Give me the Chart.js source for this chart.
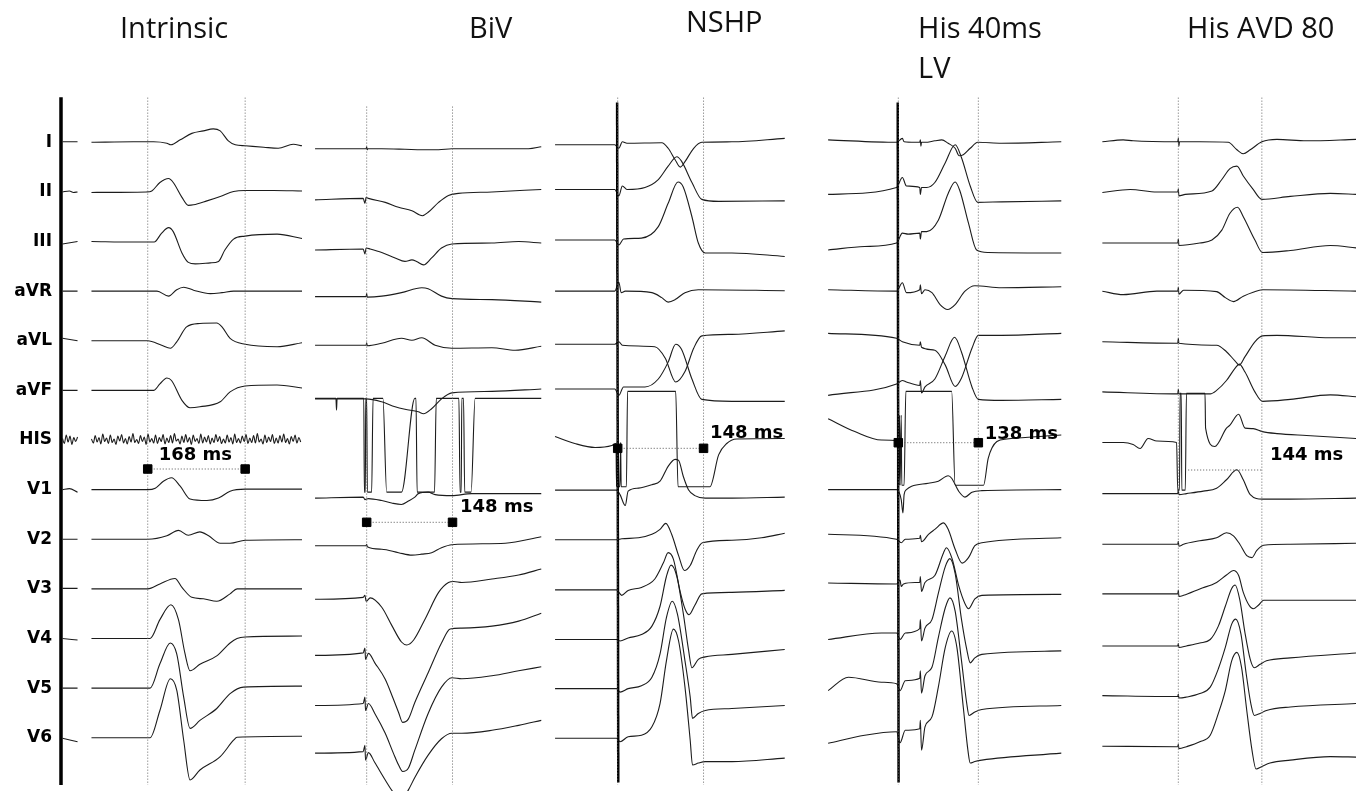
<!DOCTYPE html>
<html>
<head>
<meta charset="utf-8">
<title>QRS duration by pacing mode</title>
<script src="https://cdn.jsdelivr.net/npm/chart.js@4.4.1/dist/chart.umd.min.js"></script>
<style>
  body { margin: 0; background: #fff; }
  #wrap { position: absolute; left: 0; top: 0; width: 1356px; height: 791px; }
  .ttl { position: absolute; font-family: "Open Sans", sans-serif; font-size: 29px; line-height: 40px; color: #111; white-space: pre; }
</style>
</head>
<body>
<div id="wrap"><canvas id="ecg"></canvas></div>
<script>
// leads, panels, measured QRS (ms)
const leads = ["I", "II", "III", "aVR", "aVL", "aVF", "HIS", "V1", "V2", "V3", "V4", "V5", "V6"];
const panels = ["Intrinsic", "BiV", "NSHP", "His 40ms\nLV", "His AVD 80"];
const qrsMs = [168, 148, 148, 138, 144];
const qrsLabels = ["168 ms", "148 ms", "148 ms", "138 ms", "144 ms"];

// each trace: time (ms from QRS onset), amplitude (lead spacings), ... ; null = gap
// intrinsic HIS channel is plain noise, sampled every 3.25 ms
const hisStep = 3.25;
const hisPre = [.03, -.07, .1, -.04, .08, -.09, .05, -.03, .06];
const hisMain = [.02, -.06, .09, -.04, .05, -.08, .12, -.03, .04, -.07, .10, -.05, .02, -.09, .08, -.02, .11, -.06, .03, -.08,
  .07, -.04, .13, -.05, .01, -.07, .09, -.03, .06, -.09, .12, -.04, .03, -.06, .10, -.07, .05, -.03, .11, -.08,
  .04, -.05, .09, -.06, .13, -.02, .02, -.08, .08, -.05, .11, -.04, .05, -.09, .10, -.03, .03, -.07, .12, -.06,
  .06, -.04, .09, -.08, .04, -.05, .11, -.03, .07, -.07, .02, -.06, .10, -.04, .05, -.08, .12, -.05, .03, -.06,
  .08, -.03, .11, -.07, .04, -.05, .09, -.06, .13, -.04, .02, -.08, .10, -.05, .06, -.03, .11, -.07, .04, -.06,
  .09, -.04, .12, -.05, .03, -.08, .07, -.03, .10, -.06, .05, -.04];

function sampled(t0, vals) {
  var out = [];
  vals.forEach(function (v, i) { out.push(t0 + i * hisStep, v); });
  return out;
}

const intrinsic = [
  [-147,.01,-121,.01,null,-97,0,-25,.01,10,.01,33,-.02,40,-.05,56,.05,76,.18,96,.23,113,.27,125,.23,139,.03,151,-.05,168,-.07,200,-.10,225,-.12,251,-.04,266,-.07],
  [-147,0,-135,.02,-128,-.01,-121,0,null,-97,-.01,-2,0,7,.02,21,.19,36,.27,44,.19,59,-.11,70,-.27,79,-.26,102,-.18,125,-.09,148,.01,168,.03,217,.03,266,.02],
  [-147,-.05,-121,0,null,-97,0,-25,-.01,11,-.01,24,.17,36,.28,44,.2,59,-.23,70,-.42,82,-.45,108,-.43,122,-.4,133,-.17,148,.05,168,.11,223,.15,266,.06],
  [-147,0,-121,0,null,-97,0,16,0,36,-.1,50,.03,62,.08,79,.02,108,-.05,128,-.03,148,0,266,0],
  [-147,.05,-121,0,null,-97,0,0,0,24,-.09,39,-.15,50,-.02,67,.28,90,.35,119,.36,128,.28,142,.05,168,-.07,223,-.12,266,-.04],
  [-147,0,-121,0,null,-97,0,10,0,21,.13,33,.25,41,.2,59,-.2,73,-.35,90,-.33,125,-.23,142,-.03,168,.09,223,.11,266,.05],
  sampled(-147, hisPre).concat([null], sampled(-97, hisMain)),
  [-147,0,-135,.02,-121,-.05,null,-97,0,0,0,13,.03,27,.17,41,.24,56,.07,73,-.19,102,-.22,122,-.17,142,-.03,168,.01,266,.01],
  [-147,0,-121,0,null,-97,0,0,0,33,.07,53,.18,70,.08,90,.15,105,.07,125,-.08,142,-.08,168,-.02,266,-.01],
  [-147,.01,-121,.01,null,-97,0,0,0,21,.1,47,.21,59,.03,76,-.17,96,-.2,119,-.25,142,-.1,154,0,266,0],
  [-147,0,-121,-.03,null,-97,0,4,0,21,.38,40,.68,53,.38,64,-.29,73,-.65,90,-.52,119,-.35,142,-.09,154,0,168,.03,266,.05],
  [-147,0,-121,0,null,-97,0,4,0,21,.49,39,.91,50,.69,62,-.18,73,-.81,90,-.65,119,-.41,142,-.11,165,.02,266,.04],
  [-147,-.01,-121,-.08,null,-97,0,4,0,21,.55,39,1.19,50,.96,62,-.05,73,-.85,90,-.65,125,-.38,148,-.05,154,.01,266,.03]
];

const biv = [
  [-89,-.13,-1,-.13,0,-.09,1,-.15,2,-.13,26,-.13,66,-.14,95,-.15,124,-.15,147,-.13,279,-.13,301,-.09],
  [-89,-.16,-6,-.13,-3,-.23,-1,-.11,3,-.13,32,-.21,55,-.31,78,-.38,96,-.48,106,-.41,124,-.21,141,-.07,158,-.03,216,0,301,.05],
  [-89,-.17,-6,-.15,-3,-.25,-1,-.13,6,-.15,26,-.22,49,-.33,66,-.4,78,-.37,86,-.4,98,-.47,112,-.33,129,-.13,147,-.05,216,-.03,262,0,301,-.03],
  [-89,-.11,-1,-.11,0,-.05,1,-.12,26,-.1,60,-.03,95,.07,106,.05,129,-.1,147,-.15,216,-.17,301,-.22],
  [-89,-.09,-1,-.09,0,-.04,1,-.1,26,-.05,60,.05,78,.01,95,.06,118,-.09,147,-.15,216,-.14,256,-.19,301,-.11],
  [-89,-.17,-1,-.17,26,-.23,49,-.33,66,-.38,89,-.43,98,-.47,112,-.37,129,-.17,147,-.05,216,-.02,301,.03],
  [-89,.84,-53,.84,-52,.6,-51,.84,-5,.84,-4,-1.05,-2.3,-1.05,-1.7,.84,0,.84,1.2,-1.05,8.6,-1.05,11,.84,28,.84,34.5,-1.05,60,-1.05,83,.84,85,.84,87,-1.05,117,-1.05,120,.84,159,.84,161,-1.05,163,-1.05,164,.84,167,.84,169,-1.05,180,-1.05,187,.84,301,.84],
  [-89,-.17,-6,-.15,-3,-.2,3,-.18,26,-.22,43,-.27,60,-.3,72,-.23,83,-.15,89,-.08,106,-.05,118,-.1,147,-.12,181,-.08,301,-.08],
  [-89,-.13,-1,-.13,0,-.1,1,-.15,26,-.2,55,-.27,78,-.32,95,-.3,112,-.27,129,-.17,147,-.11,239,-.08,301,.05],
  [-89,-.21,-6,-.17,-3,-.13,-1,-.25,6,-.18,26,-.37,43,-.73,60,-1.07,69,-1.13,81,-1.03,101,-.6,124,-.07,141,.13,150,.15,164,.13,216,.2,262,.28,301,.4],
  [-89,-.34,-6,-.29,-3,-.19,-2,-.42,3,-.3,14,-.49,32,-.82,46,-1.22,55,-1.49,62,-1.69,72,-1.62,83,-1.29,106,-.69,129,-.09,144,.19,164,.21,216,.25,262,.35,301,.51],
  [-89,-.35,-6,-.31,-3,-.18,-2,-.45,3,-.31,14,-.51,32,-.91,46,-1.31,55,-1.55,62,-1.68,72,-1.61,83,-1.25,106,-.51,129,.02,147,.21,164,.19,216,.25,262,.35,301,.43],
  [-89,-.31,-6,-.28,-3,-.15,-2,-.45,3,-.3,14,-.5,32,-.85,46,-1.1,55,-1.18,62,-1.22,72,-1.05,83,-.8,106,-.35,129,-.02,147,.09,164,.09,216,.15,262,.25,301,.35]
];

const nshp = [
  [-108,-.05,-5,-.05,2,-.12,8,.01,16,-.02,76,-.01,87,-.12,99,-.35,108,-.5,116,-.39,131,-.12,145,0,197,.01,288,.08],
  [-108,.05,-5,.05,2,-.08,8,.12,16,.05,47,.09,70,.25,87,.52,102,.71,110,.62,128,.19,145,-.15,174,-.19,288,-.18],
  [-108,.03,-5,.03,2,-.07,10,.05,41,.07,70,.3,87,.77,104,1.2,113,1.1,128,.5,139,-.03,151,-.23,197,-.23,288,-.3],
  [-108,0,-5,0,2,.18,6,-.03,13,0,59,-.03,76,-.13,87,-.22,99,-.17,116,-.03,139,.03,288,.01],
  [-108,-.07,-5,-.07,2,-.02,8,-.09,64,-.12,82,-.35,100,-.83,116,-.62,131,-.15,145,.1,197,.13,288,.2],
  [-108,.03,-5,.03,2,-.1,10,.07,47,.07,70,.23,87,.57,100,.93,110,.83,128,.23,145,-.18,197,-.22,288,-.22],
  [-108,.07,-74,-.07,-39,-.15,-10,-.11,-3,-.07,-2,-.94,-1,-.05,0,-.94,1,-.05,2,-.94,4,-.94,5,-.05,6,-.94,15,-.94,17,.98,100,.98,104,-.94,159,-.94,174,-.3,188,-.07,205,.02,288,.03],
  [-108,-.01,-2,-.01,4,-.1,13,-.32,18,-.03,36,.03,59,.1,73,.17,87,.47,99,.61,105,.59,113,.27,122,0,133,-.12,151,-.17,197,-.17,288,-.15],
  [-108,-.01,-2,-.01,7,.01,36,.03,59,.1,73,.2,83,.32,93,.1,105,-.33,115,-.63,125,-.53,136,-.23,146,-.07,197,-.02,248,.03,288,.12],
  [-108,-.02,-2,-.02,7,-.13,18,-.03,41,.03,64,.2,79,.53,87,.73,96,.6,108,-.07,116,-.4,123,-.52,133,-.33,145,-.1,197,-.07,288,-.03],
  [-108,-.02,-2,-.02,4,-.05,18,.01,41,.08,59,.25,73,.65,84,1.25,92,1.48,102,1.25,113,.51,122,-.22,128,-.59,139,-.42,151,-.37,197,-.32,288,-.22],
  [-108,-.01,-2,-.01,4,-.08,18,-.01,41,.05,59,.22,73,.69,84,1.42,94,1.75,103,1.49,116,.55,125,-.18,129,-.61,139,-.51,151,-.45,197,-.41,288,-.35],
  [-108,-.01,-2,-.01,4,-.08,18,.02,41,.05,59,.22,73,.69,84,1.55,96,2.19,105,1.95,116,1.02,125,-.05,129,-.55,139,-.51,151,-.48,197,-.48,288,-.41]
];

const his40 = [
  [-121,.05,-3,0,7,.08,10,.01,29,0,37,0,38,.05,39,-.08,40,0,46,0,63,.03,75,.05,86,-.02,98,-.12,105,-.27,112,-.25,124,-.12,137,0,178,-.02,281,.01],
  [-121,-.05,-3,.09,7,.29,14,.12,37,.09,38,-.05,40,.09,49,.09,63,.19,81,.59,98,.95,109,.69,124,.12,137,-.21,178,-.2,281,-.18],
  [-121,-.17,-58,-.1,-3,-.03,7,.17,17,.15,37,.17,38,.05,40,.2,49,.2,69,.43,86,.97,98,1.2,106,1.03,121,.37,135,-.17,155,-.22,281,-.23],
  [-121,.03,-3,0,7,.17,14,-.03,37,.03,38,.13,40,-.05,46,.03,58,-.03,72,-.27,85,-.37,98,-.27,115,0,132,.11,178,.07,281,.09],
  [-121,.15,-3,.05,7,-.02,37,-.09,38,-.02,40,-.13,63,-.19,81,-.49,98,-.92,109,-.75,127,-.15,138,.11,178,.11,281,.15],
  [-121,-.1,-3,.13,7,.2,14,.17,37,.1,38,.2,40,-.05,46,.07,63,.23,81,.7,97,1.07,109,.77,127,.07,138,-.18,178,-.2,281,-.18],
  [-121,.43,-75,.17,-29,0,-1,-.02,1,-.91,2,.5,3,-.91,5,.5,6,-.91,10,-.91,13,.98,92,.98,98,-.91,147,-.91,155,-.37,170,-.03,187,.02,281,.1],
  [-121,0,-3,0,5,-.2,8,-.47,10,-.1,14,0,23,.07,52,.13,69,.17,86,.28,92,.23,104,-.03,115,-.15,127,-.05,144,-.02,281,0],
  [-121,.1,-3,0,5,-.07,12,0,37,.02,38,.08,40,-.05,52,.1,63,.2,78,.33,86,.2,98,-.2,110,-.48,121,-.37,132,-.13,144,-.07,281,.03],
  [-121,.12,-3,.1,3,.18,5,.05,9,.1,29,.13,37,.13,38,.25,40,-.05,46,.13,63,.27,78,.73,83,.83,93,.6,104,.07,115,-.3,121,-.4,132,-.2,144,-.13,281,-.11],
  [-121,-.02,-29,.11,-3,.11,3,-.02,12,.11,37,.2,38,.38,40,-.05,46,.21,58,.38,69,.91,81,1.45,89,1.61,98,1.31,109,.38,118,-.22,124,-.49,132,-.39,144,-.32,281,-.25],
  [-121,-.05,-86,.22,-29,.12,-3,.09,3,-.05,12,.15,37,.2,38,.35,40,-.1,46,.25,58,.42,69,1.02,81,1.62,89,1.82,98,1.55,109,.55,118,-.31,122,-.55,132,-.48,144,-.43,281,-.35],
  [-121,-.11,-58,.05,-3,.12,3,-.1,12,.15,37,.18,38,.35,40,-.25,46,.22,58,.42,69,1.02,81,1.82,92,2.15,101,1.82,112,.62,120,-.25,124,-.51,132,-.48,144,-.45,281,-.31]
];

const hisAvd = [
  [-131,.01,-95,.05,-78,.03,-1,.01,0,.08,1,-.08,2,.01,37,.01,86,0,101,-.15,112,-.23,124,-.15,144,.01,170,.06,221,.03,308,.06],
  [-131,-.01,-83,.05,-37,0,-1,0,0,.06,1,-.08,12,-.05,58,.02,75,.25,89,.47,101,.52,112,.32,129,.05,144,-.15,193,-.09,262,-.03,308,-.05],
  [-131,-.03,-1,-.03,0,.05,1,-.08,37,-.03,58,.03,75,.23,89,.57,102,.69,112,.5,132,.03,145,-.22,193,-.18,262,-.08,308,-.13],
  [-131,0,-95,-.07,-37,0,-1,0,0,.08,1,-.06,9,.02,66,-.01,81,-.13,95,-.21,112,-.1,129,-.02,145,.03,308,0],
  [-131,-.02,-1,-.05,0,.05,1,-.05,66,-.09,83,-.22,98,-.41,105,-.49,115,-.32,132,-.02,145,.1,170,.11,262,.06,308,.06],
  [-131,-.03,-1,-.07,0,.02,1,-.07,55,-.07,66,0,83,.2,98,.45,105,.53,115,.37,132,-.03,145,-.22,193,-.18,262,-.09,308,-.13],
  [-131,-.05,-95,-.05,-78,-.09,-66,-.17,-52,.03,-37,-.02,-3,-.05,-1,-1.01,2,-1.01,3,.94,5,.94,6,-1.01,12,-1.01,14,.94,46,.94,47,.24,63,-.13,83,.24,89,.3,104,.52,115,.24,129,.23,145,.17,170,.13,221,.09,308,.03],
  [-131,-.08,-1,-.08,0,0,1,-.1,14,-.08,43,-.03,66,.03,83,.2,101,.4,112,.2,124,-.1,145,-.19,193,-.19,308,-.17],
  [-131,-.1,-1,-.1,0,-.04,1,-.14,9,-.1,37,-.03,66,.03,83,.13,95,.07,106,-.1,118,-.33,127,-.37,135,-.23,147,-.12,193,-.1,308,-.08],
  [-131,-.1,-1,-.1,0,-.03,1,-.15,9,-.13,37,0,66,.13,83,.28,95,.37,104,.27,112,-.07,122,-.33,129,-.4,138,-.33,147,-.23,193,-.23,308,-.23],
  [-131,-.15,-1,-.15,0,-.1,1,-.18,14,-.15,37,-.09,55,-.02,69,.25,81,.65,92,1.01,98,1.08,106,.78,115,.11,124,-.42,131,-.59,141,-.52,152,-.45,193,-.39,308,-.29],
  [-131,-.15,-1,-.17,0,-.12,1,-.2,14,-.18,37,-.11,55,.02,69,.39,81,.82,92,1.29,99,1.39,108,1.09,117,.29,125,-.31,131,-.55,141,-.51,152,-.45,193,-.38,308,-.31],
  [-131,-.17,-1,-.18,0,-.13,1,-.22,14,-.18,37,-.08,55,.05,69,.49,81,.95,92,1.55,101,1.72,109,1.42,118,.55,127,-.25,134,-.63,144,-.58,158,-.51,193,-.45,262,-.38,308,-.39]
];

const traces = [intrinsic, biv, nshp, his40, hisAvd];
// pacing artefact (ms from onset, start/end) for the panels that show one
const stimulus = [null, null, [-1, 1], [-1, 0.5], null];

// layout: where each recording sits on the page
const onsetAt = [254.7, 632.2, 1065, 1548.8, 2031.6];     // ms on the shared x scale
const markerTop = [-0.9, -0.72, -0.9, -0.9, -0.9];
const measRow = [6.584, 7.658, 6.167, 6.054, 6.604];
const measStart = [0, 0, 0, 0, 17];
const measLabel = [[19, 6.30], [161, 7.36], [159, 5.865], [149, 5.88], [158, 6.30]];
const titleBox = [[120, 7], [469, 7], [686, 1], [918, 7], [1187, 7]];

const MS_PER_PX = 1 / 0.58;
const X_MIN = 60 * MS_PER_PX, X_MAX = 1356 * MS_PER_PX;
const Y_MIN = -2.868, Y_MAX = 13.073;
const ink = "#1c1c1c";

function toPoints(knots, onset, lead) {
  var pts = [];
  for (var i = 0; i < knots.length;) {
    if (knots[i] === null) {
      pts.push({ x: onset + knots[i - 2] + 0.5, y: null });
      i++;
      continue;
    }
    pts.push({ x: onset + knots[i], y: lead - knots[i + 1] });
    i += 2;
  }
  return pts;
}

var datasets = [];

// measurement markers first, so they sit on top
traces.forEach(function (p, pi) {
  var on = onsetAt[pi];
  datasets.push({
    data: [{ x: on + measStart[pi], y: measRow[pi] }, { x: on + qrsMs[pi], y: measRow[pi] }],
    borderColor: "#555", borderWidth: 1, borderDash: [1, 2],
    pointStyle: "rect", pointRadius: pi === 4 ? 0 : 6,
    pointBackgroundColor: "#000", pointBorderColor: "#000"
  });
});

traces.forEach(function (p, pi) {
  var on = onsetAt[pi];
  // onset / offset markers
  [0, qrsMs[pi]].forEach(function (t) {
    datasets.push({
      data: [{ x: on + t, y: markerTop[pi] }, { x: on + t, y: 12.95 }],
      borderColor: "#666", borderWidth: 1, borderDash: [1, 2], pointRadius: 0
    });
  });
  if (stimulus[pi]) {
    datasets.push({
      data: [{ x: on + stimulus[pi][0], y: markerTop[pi] + 0.1 }, { x: on + stimulus[pi][1], y: 12.9 }],
      borderColor: "#000", borderWidth: 2.5, pointRadius: 0
    });
  }
  p.forEach(function (knots, li) {
    datasets.push({
      data: toPoints(knots, on, li),
      borderColor: ink, borderWidth: 1.1, pointRadius: 0,
      cubicInterpolationMode: "monotone", spanGaps: false
    });
  });
});

// thick left axis bar
datasets.push({
  data: [{ x: 61 * MS_PER_PX, y: -0.91 }, { x: 61 * MS_PER_PX, y: 12.95 }],
  borderColor: "#000", borderWidth: 3.5, pointRadius: 0, clip: false
});

const labelPlugin = {
  id: "qrsLabels",
  afterDatasetsDraw: function (chart) {
    var ctx = chart.ctx, xs = chart.scales.x, ys = chart.scales.y;
    ctx.save();
    ctx.font = "bold 18px 'DejaVu Sans'";
    ctx.fillStyle = "#000";
    ctx.textBaseline = "middle";
    ctx.textAlign = "left";
    qrsLabels.forEach(function (txt, pi) {
      ctx.fillText(txt, xs.getPixelForValue(onsetAt[pi] + measLabel[pi][0]), ys.getPixelForValue(measLabel[pi][1]));
    });
    ctx.restore();
  }
};

//create chart
new Chart(document.getElementById("ecg"), {
  type: "line",
  data: { datasets: datasets },
  plugins: [labelPlugin],
  options: {
    responsive: true,
    maintainAspectRatio: false,
    animation: false,
    events: [],
    layout: { padding: 0, autoPadding: false },
    plugins: { legend: { display: false }, tooltip: { enabled: false } },
    scales: {
      x: { type: "linear", min: X_MIN, max: X_MAX, display: false },
      y: {
        type: "linear", min: Y_MIN, max: Y_MAX, reverse: true, position: "left",
        grid: { display: false, drawTicks: false },
        border: { display: false },
        afterBuildTicks: function (s) { s.ticks = leads.map(function (_, i) { return { value: i }; }); },
        afterFit: function (s) { s.width = 60; s.paddingTop = 0; s.paddingBottom = 0; },
        ticks: {
          autoSkip: false, padding: 8, color: "#000",
          font: { family: "DejaVu Sans", weight: "bold", size: 17 },
          callback: function (v) { return leads[v]; }
        }
      }
    }
  }
});

// panel titles
panels.forEach(function (name, pi) {
  var d = document.createElement("div");
  d.className = "ttl";
  d.style.left = titleBox[pi][0] + "px";
  d.style.top = titleBox[pi][1] + "px";
  d.textContent = name;
  document.body.appendChild(d);
});
</script>
</body>
</html>
